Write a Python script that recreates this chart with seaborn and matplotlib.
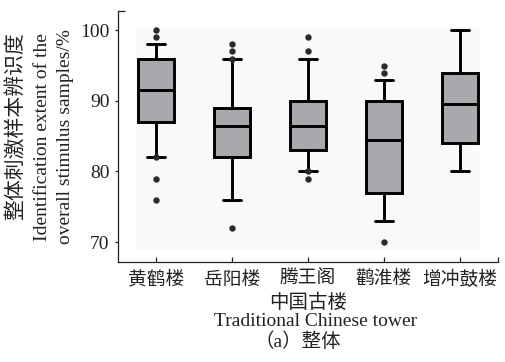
import numpy as np
import pandas as pd
import matplotlib
matplotlib.use("Agg")
import matplotlib.pyplot as plt
from matplotlib.patches import Rectangle
import seaborn as sns

# Box summary per tower: whisker ends, quartiles and median (%)
towers = ["黄鹤楼", "岳阳楼", "腾王阁", "鹳淮楼", "增冲鼓楼"]
whisker_low = [82, 76, 80, 73, 80]
q1 = [87, 82, 83, 77, 84]
median = [91.5, 86.5, 86.5, 84.5, 89.5]
q3 = [96, 89, 90, 90, 94]
whisker_high = [98, 96, 96, 93, 100]
# Individual points drawn as dots
outliers = [
    [100, 99, 82, 79, 76],
    [98, 97, 96, 72],
    [99, 97, 80, 79],
    [95, 94, 70],
    [],
]
y_ticks = [70, 80, 90, 100]

sns.set_style("ticks")
plt.rcParams["font.family"] = ["Liberation Serif", "Noto Sans CJK SC"]
plt.rcParams["axes.unicode_minus"] = False

W, H = 506, 362
fig = plt.figure(figsize=(W / 100, H / 100), dpi=100)
ax = fig.add_axes([118 / W, (H - 262) / H, 380 / W, 251.3 / H])
ax.set_facecolor("white")

# five-number table: with whiskers at min/max the quartiles land exactly
box_rows = []
for t, a, b, c, d, e in zip(towers, whisker_low, q1, median, q3, whisker_high):
    for v in (a, b, c, d, e):
        box_rows.append({"tower": t, "value": v})
box_df = pd.DataFrame(box_rows)

out_rows = [{"tower": t, "value": v} for t, vals in zip(towers, outliers) for v in vals]
out_df = pd.DataFrame(out_rows)

sns.boxplot(data=box_df, x="tower", y="value", order=towers, whis=np.inf,
            width=0.48, color="#a9a9ad", saturation=1, linecolor="black",
            linewidth=2.1, showfliers=False, ax=ax, zorder=2)
sns.stripplot(data=out_df, x="tower", y="value", order=towers, jitter=False,
              color="#2a2a2a", size=4.6, ax=ax, zorder=3)

ax.set_xlim(-0.5, 4.5)
ax.set_ylim(67.17, 102.78)

# pale plotting panel behind the boxes
ax.add_patch(Rectangle((-0.26, 68.87), 4.52, 31.6, facecolor="#f9f9f9",
                       edgecolor="none", zorder=0))

ax.set_yticks(y_ticks)
ax.set_yticklabels([str(v) for v in y_ticks])
ax.set_xticks(range(len(towers)))
ax.set_xticklabels(towers, fontweight="light")
ax.set_xticks([4.5], minor=True)
ax.set_yticks([102.78], minor=True)
ax.set_xlabel("")
ax.set_ylabel("")

for side in ("top", "right"):
    ax.spines[side].set_visible(False)
for side in ("left", "bottom"):
    ax.spines[side].set_color("#222222")
    ax.spines[side].set_linewidth(0.9)

ax.tick_params(axis="y", which="major", direction="out", length=2.5, width=0.9,
               color="#222222", pad=3.5, labelsize=14, labelcolor="#222222")
ax.tick_params(axis="y", which="minor", direction="in", length=5, width=0.9,
               color="#222222")
ax.tick_params(axis="x", which="major", direction="in", length=3.6, width=0.9,
               color="#222222", pad=6.5, labelsize=13.5, labelcolor="#222222")
ax.tick_params(axis="x", which="minor", direction="in", length=3.6, width=0.9,
               color="#222222")


def fx(px):
    return px / W


def fy(py):
    return (H - py) / H


txt = dict(color="#222222", ha="center", va="center")
# y-axis title, three rotated lines
fig.text(fx(17), fy(126), "整体刺激样本辨识度", rotation=90, fontsize=15,
         fontweight="light", **txt)
fig.text(fx(43), fy(137), "Identification extent of the", rotation=90,
         fontsize=14, **txt)
fig.text(fx(66), fy(137), "overall stimulus samples/%", rotation=90,
         fontsize=14, **txt)

# x-axis title and panel caption
fig.text(fx(308), fy(302.5), "中国古楼", fontsize=14, fontweight="light", **txt)
fig.text(fx(316), fy(321.5), "Traditional Chinese tower", fontsize=14, **txt)
fig.text(fx(298), fy(341.5), "（a）整体", fontsize=14, fontweight="light", **txt)

fig.savefig("out.png", dpi=100)
